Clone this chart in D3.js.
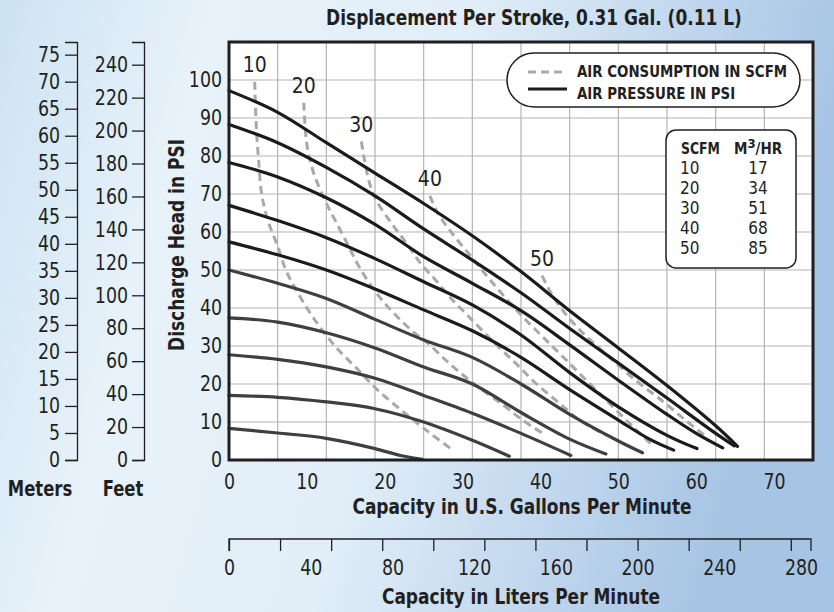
<!DOCTYPE html>
<html>
<head>
<meta charset="utf-8">
<script src="https://cdn.jsdelivr.net/npm/d3@7"></script>
<style>
  body { margin: 0; background: #fff; }
  svg text { font-family: "Liberation Sans Narrow", "DejaVu Sans Condensed", "Arial Narrow", sans-serif; fill: #231f20; }
  .bold { font-weight: bold; }
</style>
</head>
<body>
<svg id="chart" width="834" height="612"></svg>
<script>
// axis ticks
var gpmTicks = [0, 10, 20, 30, 40, 50, 60, 70];
var psiTicks = [0, 10, 20, 30, 40, 50, 60, 70, 80, 90, 100];
var meterTicks = d3.range(0, 76, 5);
var feetTicks = d3.range(0, 241, 20);
var lpmLabels = [0, 40, 80, 120, 160, 200, 240, 280];
var lpmMarks = [0, 25, 50, 75, 100, 125, 150, 175, 200, 225, 250, 275];

// air pressure curves, [gpm, psi]
var pressureNames = [100, 90, 80, 70, 60, 50, 40, 30, 20, 10];
var psi100 = [[0,97.2],[6.25,91.5],[12.5,83.5],[18.75,75.5],[25,67.5],[31.25,59],[37.5,49.6],[43.75,39.3],[50,29.5],[56.25,19.6],[62.5,9],[65.3,3.6]];
var psi90 = [[0,88.3],[6.25,83.5],[12.5,77],[18.75,69.5],[25,60.8],[31.25,52.6],[37.5,44],[43.75,34.6],[50,25.5],[56.25,16.3],[62.5,7],[64.9,3.7]];
var psi80 = [[0,78.3],[6.25,74.5],[12.5,69],[18.75,62],[25,53.5],[31.25,46.5],[37.5,39.3],[43.75,30.3],[50,21],[56.25,12],[60,7],[63.4,3.2]];
var psi70 = [[0,67],[6.25,63],[12.5,58.5],[18.75,53],[25,46.9],[31.25,40.8],[37.5,32.9],[43.75,23],[50,14],[56.25,6.5],[60.1,3]];
var psi60 = [[0,57.4],[6.25,54],[12.5,50],[18.75,45],[25,39.5],[31.25,34],[37.5,27],[43.75,18.5],[50,10.5],[54,5.5],[57.1,2.6]];
var psi50 = [[0,50],[6.25,46.5],[12.5,42.5],[18.75,37],[25,31.6],[31.25,27],[37.5,20],[43.75,12],[50,5],[53.1,1.9]];
var psi40 = [[0,37.4],[6.25,36.3],[12.5,33.5],[18.75,29.5],[25,24.5],[31.25,20],[37.5,12.5],[43.75,5.5],[48.4,1.6]];
var psi30 = [[0,27.7],[6.25,26.5],[12.5,24.5],[18.75,21.5],[25,17],[31.25,12.3],[37.5,7],[43.9,1.2]];
var psi20 = [[0,17],[6.25,16.5],[12.5,15.3],[18.75,13.5],[25,10],[31.25,5.2],[36,1]];
var psi10 = [[0,8.3],[6.25,7.1],[12.5,5.7],[18.75,3],[22,1.2],[24.8,0.2]];

// air consumption curves, [gpm, psi]
var scfmNames = [10, 20, 30, 40, 50];
var scfm10 = [[3.3,99.5],[3.5,88],[3.8,79],[4.2,70],[5,63],[6.3,56],[7.3,50],[8.7,44.5],[10.8,37.5],[13.6,30],[16.6,23.7],[19.1,18.4],[22.6,12.3],[25.6,7.4],[28.6,2.8]];
var scfm20 = [[9.6,94],[10,83],[10.8,76],[12.3,68.4],[13.6,63.2],[15.3,56.5],[16.8,50.5],[18.9,44],[21,39],[23.4,34.2],[25.5,30.8],[28.3,25.4],[31.5,20],[35.2,14.5],[37.7,10.5],[40.3,7]];
var scfm30 = [[17,83.8],[17.4,79],[18.1,72.5],[19,68],[20.8,62.5],[22.8,57],[24.7,51.5],[26.6,47.2],[28.3,43],[30.9,37.5],[33.9,31.2],[36.8,25.5],[39.4,20.2],[42.4,15],[45,10.5],[48.5,6.5]];
var scfm40 = [[25.8,69.5],[26.8,65],[28.6,59.8],[31.3,53],[33.9,46.5],[37.3,38.6],[40.3,32.4],[43.3,26.3],[46.7,19.3],[49.3,14],[52,8.5],[54.2,4.2]];
var scfm50 = [[40.2,48.5],[41.2,44.5],[42.8,39.5],[45.4,33.5],[48.8,27.2],[52.2,21],[55.5,15.8],[58.6,10.5],[61,6.6]];

// conversion table
var tableScfm = [10, 20, 30, 40, 50];
var tableM3hr = [17, 34, 51, 68, 85];

var svg = d3.select("#chart");

// squeeze text to look like a condensed face
function squeeze(sel, k) {
  sel.each(function() {
    var len = this.getComputedTextLength();
    d3.select(this).attr("textLength", len * k).attr("lengthAdjust", "spacingAndGlyphs");
  });
}

// background
var defs = svg.append("defs");
var bg = defs.append("linearGradient").attr("id", "bg").attr("x1", 0).attr("x2", 1).attr("y1", 0).attr("y2", 0.2);
bg.append("stop").attr("offset", "0").attr("stop-color", "#cde3f3");
bg.append("stop").attr("offset", "0.25").attr("stop-color", "#e8f2fa");
bg.append("stop").attr("offset", "0.55").attr("stop-color", "#e1eef8");
bg.append("stop").attr("offset", "1").attr("stop-color", "#a6c4e4");
svg.append("rect").attr("width", 834).attr("height", 612).attr("fill", "url(#bg)");

var x = d3.scaleLinear().domain([0, 75]).range([229, 813]);
var y = d3.scaleLinear().domain([0, 110]).range([460, 42]);
var lpm = d3.scaleLinear().domain([0, 280]).range([229, 801]);
var meters = d3.scaleLinear().domain([0, 110 * 0.7031]).range([460, 42]);
var feet = d3.scaleLinear().domain([0, 110 * 2.307]).range([460, 42]);

// plot area
svg.append("rect")
  .attr("x", x(0)).attr("y", y(110))
  .attr("width", x(75) - x(0)).attr("height", y(0) - y(110))
  .attr("fill", "#fff");

var grid = svg.append("g").attr("stroke", "#b4b4b4").attr("stroke-width", 1.2);
grid.selectAll(".vg").data(d3.range(1, 12)).enter().append("line")
  .attr("x1", d => x(d * 6.25)).attr("x2", d => x(d * 6.25))
  .attr("y1", y(0)).attr("y2", y(110));
grid.selectAll(".hg").data(d3.range(1, 11)).enter().append("line")
  .attr("x1", x(0)).attr("x2", x(75))
  .attr("y1", d => y(d * 10)).attr("y2", d => y(d * 10));

var line = d3.line()
  .x(d => x(d[0])).y(d => y(d[1]))
  .curve(d3.curveCatmullRom.alpha(0.5));

// air consumption (dashed)
var scfmCurves = [scfm10, scfm20, scfm30, scfm40, scfm50];
svg.append("g").selectAll("path").data(scfmCurves).enter().append("path")
  .attr("d", line)
  .attr("fill", "none")
  .attr("stroke", "#a7a9ac")
  .attr("stroke-width", 3)
  .attr("stroke-dasharray", "8,5");

svg.append("g").selectAll("text").data(scfmCurves).enter().append("text")
  .attr("x", d => x(d[0][0]))
  .attr("y", d => y(d[0][1]) - 17)
  .attr("text-anchor", "middle")
  .attr("dominant-baseline", "central")
  .attr("font-size", 21)
  .text((d, i) => scfmNames[i]);

// air pressure (solid)
var pressureCurves = [psi100, psi90, psi80, psi70, psi60, psi50, psi40, psi30, psi20, psi10];
svg.append("g").selectAll("path").data(pressureCurves).enter().append("path")
  .attr("d", line)
  .attr("fill", "none")
  .attr("stroke", (d, i) => pressureNames[i] > 50 ? "#1b1b1b" : "#3f3f3f")
  .attr("stroke-width", 3.2)
  .attr("stroke-linecap", "round");

// frame
svg.append("rect")
  .attr("x", x(0)).attr("y", y(110))
  .attr("width", x(75) - x(0)).attr("height", y(0) - y(110))
  .attr("fill", "none").attr("stroke", "#1f1f1f").attr("stroke-width", 3);

// psi axis labels
var psiAxis = svg.append("g").attr("transform", "translate(" + x(0) + ",0)")
  .call(d3.axisLeft(y).tickValues(psiTicks).tickSize(0).tickPadding(7));
psiAxis.select(".domain").remove();

// gpm axis labels
var gpmAxis = svg.append("g").attr("transform", "translate(0," + y(0) + ")")
  .call(d3.axisBottom(x).tickValues(gpmTicks).tickSize(0).tickPadding(14));
gpmAxis.select(".domain").remove();

// liters axis
var lpmAxis = svg.append("g").attr("transform", "translate(0,539)")
  .call(d3.axisBottom(lpm).tickValues(lpmMarks).tickSize(12).tickSizeOuter(12).tickFormat(""));
lpmAxis.select(".domain").attr("d", "M" + lpm(0) + ",12V0H811V12");
lpmAxis.selectAll("line, path").attr("stroke", "#231f20").attr("stroke-width", 1.3);
var lpmText = svg.append("g").attr("transform", "translate(0,539)")
  .call(d3.axisBottom(lpm).tickValues(lpmLabels).tickSize(0).tickPadding(21));
lpmText.select(".domain").remove();

// meters and feet axes
var mAxis = svg.append("g").attr("transform", "translate(77,0)")
  .call(d3.axisLeft(meters).tickValues(meterTicks).tickSize(12).tickPadding(5));
var fAxis = svg.append("g").attr("transform", "translate(144,0)")
  .call(d3.axisLeft(feet).tickValues(feetTicks).tickSize(12).tickPadding(4));
[mAxis, fAxis].forEach(function(a) {
  a.selectAll("line, path").attr("stroke", "#231f20").attr("stroke-width", 1.3);
});

var tickTexts = svg.selectAll(".tick text");
tickTexts.attr("font-size", 21).attr("font-family", null);
squeeze(tickTexts, 0.92);

// titles
var titles = [];
titles.push(svg.append("text").attr("x", 534).attr("y", 25)
  .attr("text-anchor", "middle")
  .text("Displacement Per Stroke, 0.31 Gal. (0.11 L)"));
titles.push(svg.append("text").attr("x", 522).attr("y", 514)
  .attr("text-anchor", "middle")
  .text("Capacity in U.S. Gallons Per Minute"));
titles.push(svg.append("text").attr("x", 521).attr("y", 604)
  .attr("text-anchor", "middle")
  .text("Capacity in Liters Per Minute"));
titles.push(svg.append("text")
  .attr("transform", "translate(184,245) rotate(-90)")
  .attr("text-anchor", "middle")
  .text("Discharge Head in PSI"));
titles.forEach(function(t) {
  t.attr("class", "bold").attr("font-size", 21);
  squeeze(t, 0.9);
});
var unitNames = svg.append("g").attr("class", "bold").attr("font-size", 21);
unitNames.append("text").attr("x", 40).attr("y", 496).attr("text-anchor", "middle").text("Meters");
unitNames.append("text").attr("x", 123).attr("y", 496).attr("text-anchor", "middle").text("Feet");
squeeze(unitNames.selectAll("text"), 0.87);

// legend
var legend = svg.append("g");
legend.append("rect").attr("x", 507).attr("y", 53).attr("width", 293).attr("height", 54)
  .attr("rx", 27).attr("fill", "#fff").attr("stroke", "#231f20").attr("stroke-width", 1.5);
legend.append("line").attr("x1", 528).attr("x2", 563).attr("y1", 72).attr("y2", 72)
  .attr("stroke", "#a7a9ac").attr("stroke-width", 3).attr("stroke-dasharray", "8,5");
legend.append("line").attr("x1", 528).attr("x2", 567).attr("y1", 89).attr("y2", 89)
  .attr("stroke", "#1b1b1b").attr("stroke-width", 3.2);
legend.append("text").attr("class", "bold").attr("x", 577).attr("y", 77)
  .attr("font-size", 16.5).text("AIR CONSUMPTION IN SCFM");
legend.append("text").attr("class", "bold").attr("x", 577).attr("y", 99)
  .attr("font-size", 16.5).text("AIR PRESSURE IN PSI");
squeeze(legend.selectAll("text"), 0.9);

// scfm conversion table
var table = svg.append("g");
table.append("rect").attr("x", 666).attr("y", 130).attr("width", 130).attr("height", 138)
  .attr("rx", 10).attr("fill", "#fff").attr("stroke", "#231f20").attr("stroke-width", 1.5);
var head = table.append("text").attr("class", "bold").attr("x", 681).attr("y", 154)
  .attr("font-size", 15).text("SCFM");
squeeze(head, 0.92);
var m3 = table.append("text").attr("class", "bold").attr("x", 734).attr("y", 154).attr("font-size", 15);
m3.append("tspan").text("M");
m3.append("tspan").attr("dy", -6).attr("font-size", 13).text("3");
m3.append("tspan").attr("dy", 6).text("/HR");
table.selectAll(".scfm").data(tableScfm).enter().append("text")
  .attr("x", 680).attr("y", (d, i) => 174 + i * 20)
  .attr("font-size", 17).text(d => d);
table.selectAll(".m3").data(tableM3hr).enter().append("text")
  .attr("x", 758).attr("y", (d, i) => 174 + i * 20)
  .attr("text-anchor", "middle")
  .attr("font-size", 17).text(d => d);
</script>
</body>
</html>
